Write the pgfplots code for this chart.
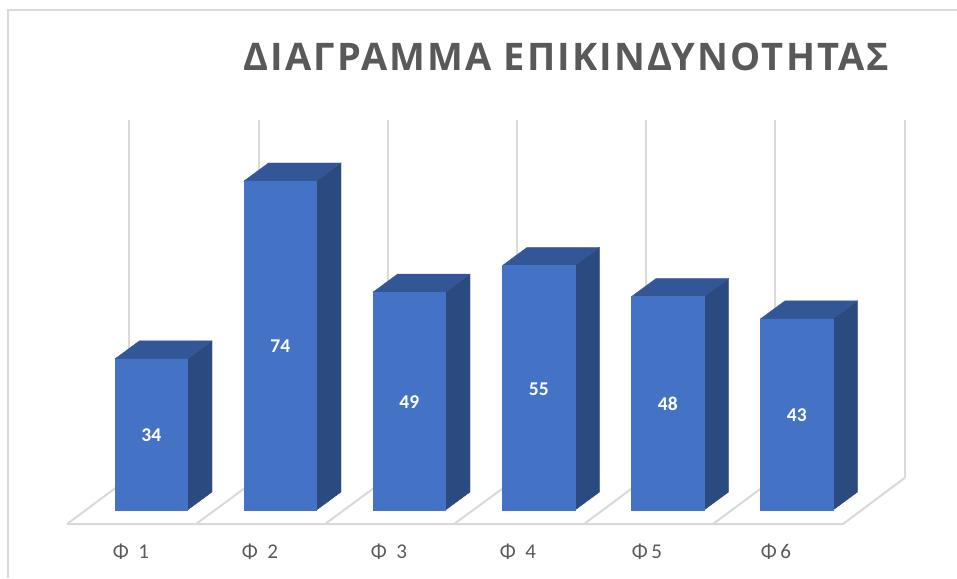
\documentclass[border=0pt]{standalone}
\usepackage{fontspec}
\usepackage{pgfplots}
\pgfplotsset{compat=1.18}
\setmainfont{Open Sans}
\newfontfamily\carlito{Carlito}
\newfontfamily\titlefont{Open Sans}[LetterSpace=5.5]
\definecolor{front}{HTML}{4472C4}
\definecolor{side}{HTML}{2A4A80}
\definecolor{topf}{HTML}{335696}
\definecolor{gridc}{HTML}{D9D9D9}
\definecolor{txt}{HTML}{595959}
\begin{document}
\begin{tikzpicture}
\begin{axis}[
  scale only axis, width=957pt, height=578pt,
  xmin=0, xmax=957, ymin=-15.29, ymax=114.71,
  axis line style={draw=none}, ytick=\empty,
  xtick={131,260,389,518,647,776},
  xticklabels={{Φ\ \ 1},{Φ\ \ 2},{Φ\ \ 3},{Φ\ \ 4},{Φ\,5},{Φ\,6}},
  tick style={draw=none},
  xticklabel style={font=\carlito\fontsize{21}{21}\selectfont, text=txt, anchor=base, yshift=20pt},
  title={\titlefont\bfseries ΔΙΑΓΡΑΜΜΑ ΕΠΙΚΙΝΔΥΝΟΤΗΤΑΣ},
  title style={at={(axis cs:566.5,97.6)}, anchor=base, font=\fontsize{38}{38}\selectfont, text=txt, inner sep=0pt, yshift=0pt},
]
% chart frame
\addplot[gridc, line width=2pt] coordinates {(8,-15.29) (8,112.46) (957,112.46)};
% back walls
\addplot[gridc, line width=2pt] coordinates {(129,87.72) (129,7.20)};
\addplot[gridc, line width=2pt] coordinates {(258.5,87.72) (258.5,7.20)};
\addplot[gridc, line width=2pt] coordinates {(387.5,87.72) (387.5,7.20)};
\addplot[gridc, line width=2pt] coordinates {(517,87.72) (517,7.20)};
\addplot[gridc, line width=2pt] coordinates {(646,87.72) (646,7.20)};
\addplot[gridc, line width=2pt] coordinates {(775,87.72) (775,7.20)};
\addplot[gridc, line width=2pt] coordinates {(904.5,87.72) (904.5,7.20)};
% floor
\addplot[gridc, line width=2pt] coordinates {(67,-3.15) (843,-3.15) (904.5,7.20)};
\addplot[gridc, line width=2pt] coordinates {(67,-3.15) (129,7.20)};
\addplot[gridc, line width=2pt] coordinates {(196,-3.15) (258.5,7.20)};
\addplot[gridc, line width=2pt] coordinates {(325,-3.15) (387.5,7.20)};
\addplot[gridc, line width=2pt] coordinates {(454,-3.15) (517,7.20)};
\addplot[gridc, line width=2pt] coordinates {(584,-3.15) (646,7.20)};
\addplot[gridc, line width=2pt] coordinates {(713,-3.15) (775,7.20)};
% side faces
\addplot[fill=side, draw=side, line width=0.4pt] coordinates {(187.5,0) (212,4.05) (212,38.05) (187.5,34)} --cycle;
\addplot[fill=side, draw=side, line width=0.4pt] coordinates {(316.5,0) (341,4.05) (341,78.05) (316.5,74)} --cycle;
\addplot[fill=side, draw=side, line width=0.4pt] coordinates {(445.5,0) (470,4.05) (470,53.05) (445.5,49)} --cycle;
\addplot[fill=side, draw=side, line width=0.4pt] coordinates {(575,0) (599.5,4.05) (599.5,59.05) (575,55)} --cycle;
\addplot[fill=side, draw=side, line width=0.4pt] coordinates {(704,0) (728.5,4.05) (728.5,52.05) (704,48)} --cycle;
\addplot[fill=side, draw=side, line width=0.4pt] coordinates {(833,0) (857.5,4.05) (857.5,47.05) (833,43)} --cycle;
% top faces
\addplot[fill=topf, draw=topf, line width=0.4pt] coordinates {(115,34) (139.5,38.05) (212,38.05) (187.5,34)} --cycle;
\addplot[fill=topf, draw=topf, line width=0.4pt] coordinates {(244,74) (268.5,78.05) (341,78.05) (316.5,74)} --cycle;
\addplot[fill=topf, draw=topf, line width=0.4pt] coordinates {(373,49) (397.5,53.05) (470,53.05) (445.5,49)} --cycle;
\addplot[fill=topf, draw=topf, line width=0.4pt] coordinates {(502.5,55) (527,59.05) (599.5,59.05) (575,55)} --cycle;
\addplot[fill=topf, draw=topf, line width=0.4pt] coordinates {(631.5,48) (656,52.05) (728.5,52.05) (704,48)} --cycle;
\addplot[fill=topf, draw=topf, line width=0.4pt] coordinates {(760.5,43) (785,47.05) (857.5,47.05) (833,43)} --cycle;
% front faces
\addplot[ybar, bar width=72.5, bar shift=0pt, fill=front, draw=front, line width=0.4pt] coordinates {(151.25,34) (280.25,74) (409.25,49) (538.75,55) (667.75,48) (796.75,43)};
% value labels
\addplot[draw=none, mark=none, point meta=explicit,
  nodes near coords={\pgfmathprintnumber[assume math mode=true]{\pgfplotspointmeta}},
  every node near coord/.append style={anchor=center, text=white, yshift=-1pt, font=\carlito\bfseries\fontsize{19.5}{19.5}\selectfont}]
  coordinates {(151.25,17) [34] (280.25,37) [74] (409.25,24.5) [49] (538.75,27.5) [55] (667.75,24) [48] (796.75,21.5) [43]};
\end{axis}
\end{tikzpicture}
\end{document}
